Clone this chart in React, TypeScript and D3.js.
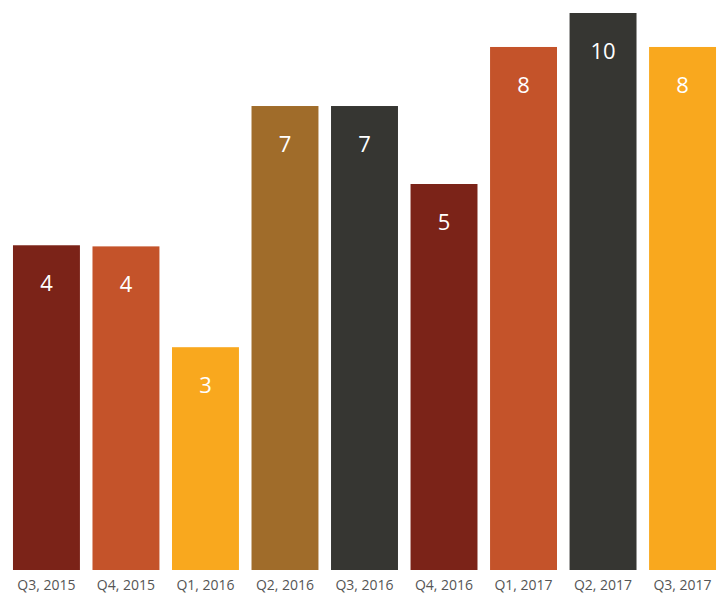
import React from "react";
import * as d3 from "d3";

const categories = ["Q3, 2015", "Q4, 2015", "Q1, 2016", "Q2, 2016", "Q3, 2016", "Q4, 2016", "Q1, 2017", "Q2, 2017", "Q3, 2017"];
// bar heights as drawn (data units, top of scale = 10)
const values = [5.83, 5.81, 4.0, 8.33, 8.33, 6.93, 9.39, 10, 9.39];
// numbers printed on the bars
const labels = ["4", "4", "3", "7", "7", "5", "8", "10", "8"];
const colors = ["#7B2318", "#C4532A", "#F9A81E", "#A06C2A", "#363632", "#7B2318", "#C4532A", "#363632", "#F9A81E"];

const W = 722;
const H = 595;

export default function App() {
  const x = d3.scaleBand<string>().domain(categories).range([9, 720]).paddingInner(0.158).paddingOuter(0.05);
  const y = d3.scaleLinear().domain([0, 10]).range([570, 13]);
  const font = "'Open Sans', 'Segoe UI', sans-serif";
  return (
    <svg width={W} height={H} style={{ position: "absolute", left: 0, top: 0, background: "#fff" }} fontFamily={font}>
      {categories.map((c, i) => {
        const bx = x(c)!;
        const bw = x.bandwidth();
        const top = y(values[i]);
        return (
          <g key={c}>
            <rect x={bx} y={top} width={bw} height={y(0) - top} fill={colors[i]} />
            <text x={bx + bw / 2} y={top + 46} textAnchor="middle" fontSize={22} fill="#ffffff">
              {labels[i]}
            </text>
            <text x={bx + bw / 2} y={589.5} textAnchor="middle" fontSize={14} fill="#555555">
              {c}
            </text>
          </g>
        );
      })}
    </svg>
  );
}
